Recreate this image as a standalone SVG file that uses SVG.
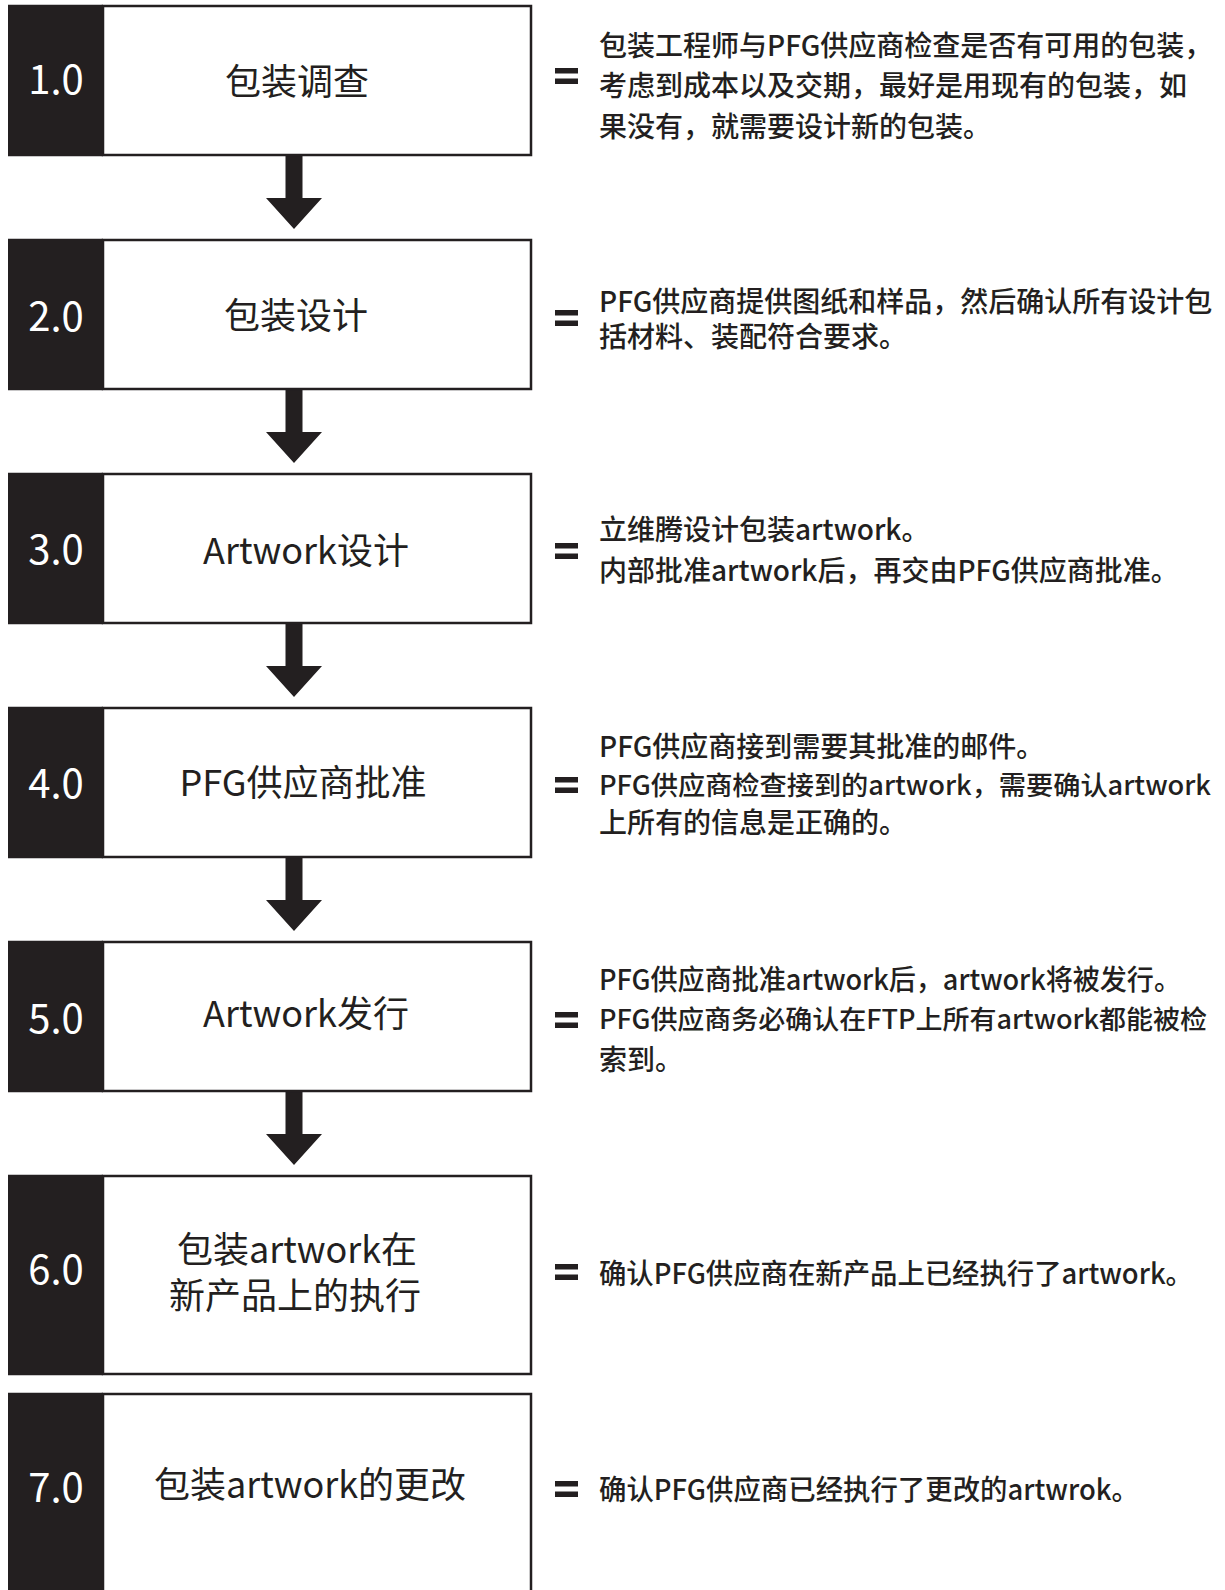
<svg xmlns="http://www.w3.org/2000/svg" width="1225" height="1590" viewBox="0 0 1225 1590">
<style>
.box{fill:#fff;stroke:#231f20;stroke-width:2.5}
.blk{fill:#231f20}
.num{font-family:"Noto Sans CJK SC","Noto Sans",sans-serif;font-size:40px;fill:#fff;text-anchor:middle}
.lab{font-family:"Noto Sans CJK SC","Noto Sans",sans-serif;font-size:36px;fill:#231f20;text-anchor:middle}
.desc{font-family:"Noto Sans CJK SC","Noto Sans",sans-serif;font-size:28px;font-weight:500;fill:#231f20}
.fit{font-size:26.5px}
.eq{fill:#231f20}
.arr{fill:#231f20}
</style>
<defs>
<g id="eqs"><rect class="eq" x="0" y="-8" width="23" height="5.5"/><rect class="eq" x="0" y="2.5" width="23" height="5.5"/></g>
</defs>
<g id="connectors">
<path class="arr" d="M285.5 155 H302.5 V198 H322 L294 229 L266 198 H285.5 Z"/>
<path class="arr" d="M285.5 389 H302.5 V432 H322 L294 463 L266 432 H285.5 Z"/>
<path class="arr" d="M285.5 623 H302.5 V666 H322 L294 697 L266 666 H285.5 Z"/>
<path class="arr" d="M285.5 857 H302.5 V900 H322 L294 931 L266 900 H285.5 Z"/>
<path class="arr" d="M285.5 1091 H302.5 V1134 H322 L294 1165 L266 1134 H285.5 Z"/>
</g>
<g id="node1">
<rect class="box" x="103" y="6" width="428" height="149"/>
<rect class="blk" x="8" y="4.75" width="95" height="151.5"/>
<text class="num" x="56" y="94">1.0</text>
<text class="lab" x="297" y="95">包装调查</text>
<use href="#eqs" x="555" y="76"/>
<text class="desc" x="599" y="56">包装工程师与PFG供应商检查是否有可用的包装，</text>
<text class="desc" x="599" y="96">考虑到成本以及交期，最好是用现有的包装，如</text>
<text class="desc" x="599" y="137">果没有，就需要设计新的包装。</text>
</g>
<g id="node2">
<rect class="box" x="103" y="240" width="428" height="149"/>
<rect class="blk" x="8" y="238.75" width="95" height="151.5"/>
<text class="num" x="56" y="331">2.0</text>
<text class="lab" x="296" y="329">包装设计</text>
<use href="#eqs" x="555" y="318"/>
<text class="desc" x="599" y="312">PFG供应商提供图纸和样品，然后确认所有设计包</text>
<text class="desc" x="599" y="347">括材料、装配符合要求。</text>
</g>
<g id="node3">
<rect class="box" x="103" y="474" width="428" height="149"/>
<rect class="blk" x="8" y="472.75" width="95" height="151.5"/>
<text class="num" x="56" y="564">3.0</text>
<text class="lab" x="306" y="564">Artwork设计</text>
<use href="#eqs" x="555" y="551"/>
<text class="desc" x="599" y="540">立维腾设计包装artwork。</text>
<text class="desc" x="599" y="581">内部批准artwork后，再交由PFG供应商批准。</text>
</g>
<g id="node4">
<rect class="box" x="103" y="708" width="428" height="149"/>
<rect class="blk" x="8" y="706.75" width="95" height="151.5"/>
<text class="num" x="56" y="798">4.0</text>
<text class="lab" x="303" y="796">PFG供应商批准</text>
<use href="#eqs" x="555" y="785"/>
<text class="desc" x="599" y="757">PFG供应商接到需要其批准的邮件。</text>
<text class="desc fit" x="599" y="795" textLength="612" lengthAdjust="spacingAndGlyphs">PFG供应商检查接到的artwork，需要确认artwork</text>
<text class="desc" x="599" y="833">上所有的信息是正确的。</text>
</g>
<g id="node5">
<rect class="box" x="103" y="942" width="428" height="149"/>
<rect class="blk" x="8" y="940.75" width="95" height="151.5"/>
<text class="num" x="56" y="1033">5.0</text>
<text class="lab" x="306" y="1027">Artwork发行</text>
<use href="#eqs" x="555" y="1020"/>
<text class="desc" x="599" y="990" textLength="582" lengthAdjust="spacingAndGlyphs">PFG供应商批准artwork后，artwork将被发行。</text>
<text class="desc fit" x="599" y="1029" textLength="608" lengthAdjust="spacingAndGlyphs">PFG供应商务必确认在FTP上所有artwork都能被检</text>
<text class="desc" x="599" y="1070">索到。</text>
</g>
<g id="node6">
<rect class="box" x="103" y="1176" width="428" height="198"/>
<rect class="blk" x="8" y="1174.75" width="95" height="200.5"/>
<text class="num" x="56" y="1284">6.0</text>
<text class="lab" x="297" y="1263">包装artwork在</text>
<text class="lab" x="295" y="1309">新产品上的执行</text>
<use href="#eqs" x="555" y="1272"/>
<text class="desc" x="599" y="1284" textLength="594" lengthAdjust="spacingAndGlyphs">确认PFG供应商在新产品上已经执行了artwork。</text>
</g>
<g id="node7">
<rect class="box" x="103" y="1394" width="428" height="220"/>
<rect class="blk" x="8" y="1392.75" width="95" height="222"/>
<text class="num" x="56" y="1502">7.0</text>
<text class="lab" x="310" y="1498">包装artwork的更改</text>
<use href="#eqs" x="555" y="1489"/>
<text class="desc" x="599" y="1500" textLength="540" lengthAdjust="spacingAndGlyphs">确认PFG供应商已经执行了更改的artwrok。</text>
</g>
</svg>
